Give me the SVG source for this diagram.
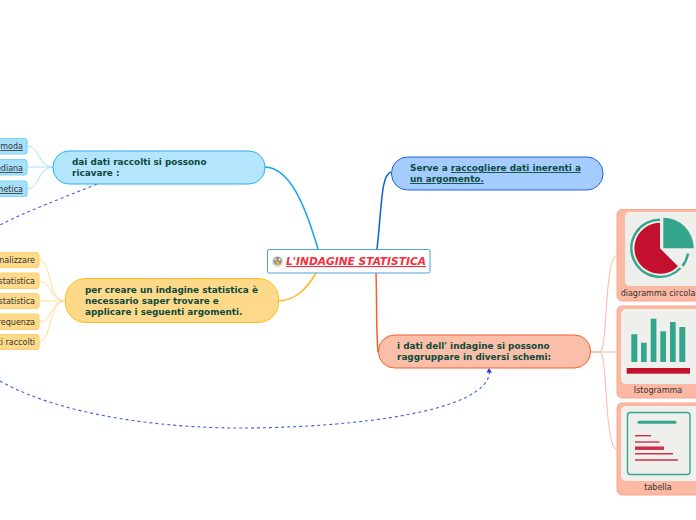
<svg xmlns="http://www.w3.org/2000/svg" width="696" height="520" viewBox="0 0 696 520">
<style>
text{font-family:"DejaVu Sans",Verdana,sans-serif}
.t{font-size:8.9px;font-weight:bold;fill:#0b4a3c}
.s{font-size:8px;fill:#333}
.c{font-size:8px;fill:#333;text-anchor:middle}
.u{text-decoration:underline}
.leaf{fill:none;stroke-width:1}
.main{fill:none;stroke-width:1.5}
.dash{fill:none;stroke:#3f5fe6;stroke-width:1.100;stroke-dasharray:3 3}
.bl{fill:#a6e0fb;stroke:#7fd3fa;stroke-width:1.200}
.or{fill:#ffd98a;stroke:#ffcf70;stroke-width:1.200}
.im{fill:#fbb8a3;stroke:#fca78c;stroke-width:1}
.in{fill:#eff0ec}
.g{fill:#36a58e}
.r{fill:#c3102f}
</style>
<g id="connectors">
<path class="main" stroke="#0ea5ec" d="M265 167C290 168 305 205 318 249"/>
<path class="main" stroke="#ffb81f" d="M279 301C295 300 306 290 316 273"/>
<path class="main" stroke="#0d5fd6" d="M391 172C381 175 382 205 377 249"/>
<path class="main" stroke="#f4602c" d="M376 273C377 300 376 330 378 352"/>
<g class="leaf" stroke="#a3e2fb">
<path d="M53 167C38 167 40 146 27 146"/>
<path d="M53 167H27"/>
<path d="M53 167C38 167 40 189 27 189"/>
</g>
<g class="leaf" stroke="#ffdc94">
<path d="M65 301C48 301 52 260 39 260"/>
<path d="M65 301C50 301 52 281 39 281"/>
<path d="M65 301H39"/>
<path d="M65 301C50 301 52 322 39 322"/>
<path d="M65 301C48 301 52 342 39 342"/>
</g>
<g class="leaf" stroke="#fbb8a3">
<path d="M591 352H600C608 350 604 258 617 255"/>
<path d="M591 352H617"/>
<path d="M591 352H600C608 354 604 447 617 450"/>
</g>
<path class="dash" d="M97 184C60 199 25 212 0 225"/>
<path class="dash" d="M0 381C60 415 160 428 240 428C350 428 490 412 489.500 371"/>
<path d="M486.500 372.500L489 368L492 372.500Z" fill="#1a3be0"/>
</g>
<g id="root">
<rect x="267.500" y="249.500" width="162.500" height="23.500" rx="1.500" fill="#fff" stroke="#4f9fd8" stroke-width="1"/>
<circle cx="277.500" cy="261.500" r="5.500" fill="#d9dcdc"/>
<circle cx="277.500" cy="261" r="4" fill="#8a8f8a"/>
<circle cx="277.500" cy="263" r="2" fill="#e9b32c"/>
<circle cx="275.500" cy="259.500" r="1" fill="#fff"/>
<circle cx="279.500" cy="259.500" r="1" fill="#fff"/>
<text x="286" y="265" font-size="11" font-weight="bold" font-style="italic" fill="#f4303c" text-decoration="underline" textLength="140" lengthAdjust="spacingAndGlyphs">L'INDAGINE STATISTICA</text>
</g>
<g id="node-dati">
<rect x="53" y="151" width="212" height="33" rx="16" fill="#b3e5fc" stroke="#29b0ee" stroke-width="1"/>
<text class="t" x="72" y="165">dai dati raccolti si possono</text>
<text class="t" x="72" y="176">ricavare :</text>
</g>
<g id="leaf-moda"><rect class="bl" x="-10" y="138.500" width="37" height="15.500" rx="3"/><text class="s u" x="23" y="149" text-anchor="end">moda</text></g>
<g id="leaf-mediana"><rect class="bl" x="-10" y="159.500" width="37" height="15.500" rx="3"/><text class="s u" x="23" y="171" text-anchor="end">mediana</text></g>
<g id="leaf-aritmetica"><rect class="bl" x="-10" y="181" width="37" height="15.500" rx="3"/><text class="s u" x="23" y="192" text-anchor="end">aritmetica</text></g>
<g id="node-creare">
<rect x="65.500" y="278.500" width="213" height="44" rx="20" fill="#ffd98a" stroke="#ffb81f" stroke-width="1"/>
<text class="t" x="85" y="293">per creare un indagine statistica è</text>
<text class="t" x="85" y="304">necessario saper trovare e</text>
<text class="t" x="85" y="315">applicare i seguenti argomenti.</text>
</g>
<g id="leaf-analizzare"><rect class="or" x="-10" y="252.500" width="49" height="15" rx="3"/><text class="s" x="35" y="263" text-anchor="end">analizzare</text></g>
<g id="leaf-statistica1"><rect class="or" x="-10" y="273" width="49" height="15.500" rx="3"/><text class="s" x="35" y="284" text-anchor="end">statistica</text></g>
<g id="leaf-statistica2"><rect class="or" x="-10" y="293.500" width="49" height="15" rx="3"/><text class="s" x="35" y="304" text-anchor="end">statistica</text></g>
<g id="leaf-frequenza"><rect class="or" x="-10" y="314" width="49" height="15.500" rx="3"/><text class="s" x="35" y="325" text-anchor="end">frequenza</text></g>
<g id="leaf-raccolti"><rect class="or" x="-10" y="334.500" width="49" height="15" rx="3"/><text class="s" x="35" y="345" text-anchor="end">dati raccolti</text></g>
<g id="node-serve">
<rect x="391.500" y="157" width="211.500" height="33" rx="16" fill="#a6ccff" stroke="#1e66d6" stroke-width="1"/>
<text class="t" x="410" y="171">Serve a <tspan class="u">raccogliere dati inerenti a </tspan></text>
<text class="t u" x="410" y="182">un argomento.</text>
</g>
<g id="node-schemi">
<rect x="378.500" y="335" width="212" height="33" rx="16" fill="#fbbfa9" stroke="#f4602c" stroke-width="1"/>
<text class="t" x="397" y="349">i dati dell' indagine si possono</text>
<text class="t" x="397" y="360">raggruppare in diversi schemi:</text>
</g>
<g id="node-circolare">
<rect class="im" x="617" y="209.500" width="90" height="91.500" rx="5"/>
<rect class="in" x="625" y="212" width="80" height="74" rx="5"/>
<path class="g" d="M663.300 248.300V217.800A30.500 30.500 0 0 1 693.800 248.300Z"/>
<path class="r" d="M660 248.300V222.800A25.500 25.500 0 1 0 678 266.300Z"/>
<path d="M660 219.800A28.500 28.500 0 1 0 680.500 268" fill="none" stroke="#36a58e" stroke-width="2.500"/>
<path d="M688 253.500A28.500 28.500 0 0 1 682.500 266" fill="none" stroke="#36a58e" stroke-width="2.500"/>
<text class="c" x="662" y="296">diagramma circolare</text>
</g>
<g id="node-istogramma">
<rect class="im" x="617" y="306" width="90" height="92" rx="5"/>
<rect class="in" x="621" y="309" width="84" height="75" rx="5"/>
<rect class="g" x="631.300" y="334.300" width="6" height="27.700"/>
<rect class="g" x="641" y="342.700" width="5.700" height="19.300"/>
<rect class="g" x="650.700" y="318.700" width="5.700" height="43.300"/>
<rect class="g" x="660.300" y="331.300" width="5.700" height="30.700"/>
<rect class="g" x="670" y="322" width="5.700" height="40"/>
<rect class="g" x="679.300" y="327" width="6" height="35"/>
<rect class="r" x="626.700" y="368" width="63.300" height="5.700"/>
<text class="c" x="658" y="393">Istogramma</text>
</g>
<g id="node-tabella">
<rect class="im" x="617" y="403" width="90" height="92" rx="5"/>
<rect class="in" x="621" y="406" width="84" height="75" rx="5"/>
<rect x="627.500" y="412.500" width="62.500" height="62" rx="3" fill="none" stroke="#36a58e" stroke-width="1.400"/>
<path d="M639 422.300H675" stroke="#36a58e" stroke-width="3" stroke-linecap="round" fill="none"/>
<g stroke="#c3102f" fill="none" opacity=".85">
<path d="M635 435.700H651" stroke-width="1.400"/>
<path d="M635 442H659.500" stroke-width="1.400"/>
<path d="M635 448.200H664" stroke-width="3.500"/>
<path d="M635 453.700H673" stroke-width="1.400"/>
<path d="M635 460H678" stroke-width="1.400"/>
</g>
<text class="c" x="658" y="490">tabella</text>
</g>
</svg>
